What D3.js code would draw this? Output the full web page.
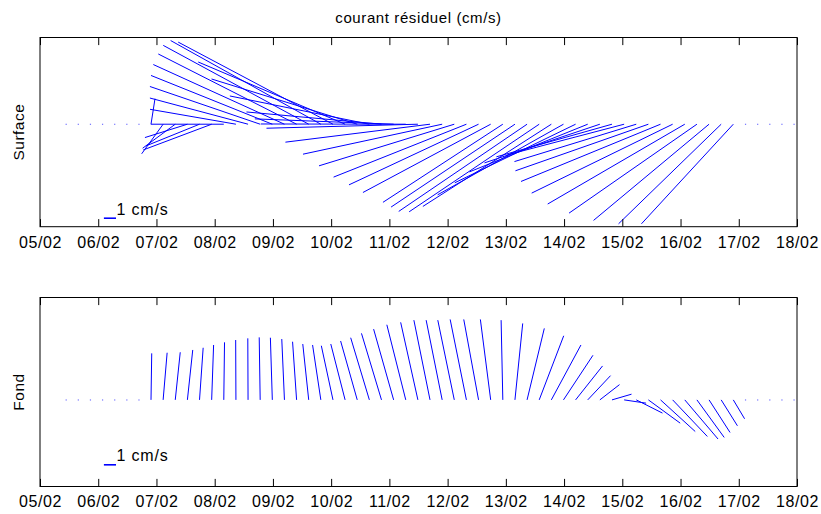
<!DOCTYPE html>
<html><head><meta charset="utf-8">
<script src="https://cdn.jsdelivr.net/npm/d3@7"></script>
<style>
body{margin:0;background:#fff}
text{font-family:"Liberation Sans",Arial,Helvetica,sans-serif;fill:#000}
</style>
</head><body>
<svg id="chart" width="821" height="514"></svg>
<script>
// ---------------- data ----------------
const chartTitle = "courant résiduel (cm/s)";
const panelLabels = ["Surface", "Fond"];
const axisStart = "2004-02-05T00:00:00Z";
const axisEnd = "2004-02-18T00:00:00Z";
const tickFormat = "%d/%m";
const sampleStart = "2004-02-05T10:45:00Z";
const sampleStepHours = 5;
const legendText = "1 cm/s";
const legendSpeed = 1;

// surface residual current (cm/s), one value per 5-hour sample (61 samples)
const surfaceU = [0,0,0,0,0,0,0,
  0.33,-1.77,-2.69,-3.50,-4.42,-5.64,-6.01,-7.08,-8.09,-9.09,-10.00,-10.81,-11.40,-11.99,
  -12.38,-12.76,-12.11,-12.01,-11.50,-11.13,-11.44,-11.95,-12.48,-11.92,-11.47,-11.15,-10.95,-10.68,
  -10.53,-9.88,-10.21,-10.58,-10.72,-10.59,-10.37,-9.96,-9.75,-9.51,-9.53,-9.63,-10.04,-10.96,
  -11.50,-11.62,-11.30,-10.54,-9.52,-8.46,-7.57,
  0,0,0,0,0];
const surfaceV = [0,0,0,0,0,0,0,
  2.11,-2.44,-1.98,-1.10,-1.79,-2.12,0.00,1.23,2.16,3.11,4.02,4.92,5.79,6.50,
  6.90,6.77,5.13,3.73,2.33,1.01,0.44,0.02,-0.33,-1.48,-2.47,-3.43,-4.36,-5.00,
  -5.63,-6.44,-6.83,-7.19,-7.22,-6.78,-5.82,-4.83,-3.93,-3.19,-2.69,-2.53,-3.08,-3.84,
  -4.72,-5.68,-6.58,-7.33,-7.93,-8.21,-8.21,
  0,0,0,0,0];

// bottom residual current (cm/s)
const fondU = [0,0,0,0,0,0,0,
  0.06,0.33,0.41,0.44,0.30,0.16,0.06,-0.02,-0.02,-0.08,-0.16,-0.22,-0.33,-0.49,
  -0.68,-0.96,-1.18,-1.37,-1.54,-1.65,-1.65,-1.56,-1.42,-1.33,-1.32,-1.36,-1.34,-1.22,
  -0.85,-0.14,0.64,1.42,2.02,2.44,2.43,2.22,1.88,1.62,1.61,1.81,2.16,2.62,
  2.86,2.86,2.74,2.25,1.73,1.34,0.93,
  0,0,0,0,0];
const fondV = [0,0,0,0,0,0,0,
  3.84,3.89,3.93,4.12,4.30,4.53,4.75,4.94,5.08,5.16,5.13,5.02,4.80,4.61,
  4.53,4.47,4.61,4.86,5.13,5.49,5.84,6.20,6.40,6.58,6.58,6.58,6.64,6.64,
  6.64,6.58,6.31,5.90,5.29,4.53,3.68,2.80,2.00,1.26,0.47,-0.27,-1.09,-1.92,
  -2.61,-3.02,-3.23,-3.10,-2.69,-2.14,-1.56,
  0,0,0,0,0];

const surfaceYDomain = [-8.45, 7.15];
const fondYDomain = [-7.15, 8.45];
const legendPosition = [["2004-02-06T02:20:00Z", -7.75], ["2004-02-06T02:20:00Z", -5.36]];

// ---------------- drawing ----------------
const svg = d3.select("#chart");
const plotLeft = 40, plotRight = 797;
const panelBoxes = [{top: 37.5, bottom: 226.7}, {top: 297.5, bottom: 486.5}];
const blue = "#0000ff";
const fontFam = '"Liberation Sans",Arial,Helvetica,sans-serif';

const x = d3.scaleUtc()
  .domain([new Date(axisStart), new Date(axisEnd)])
  .range([plotLeft, plotRight]);

const t0 = new Date(sampleStart).getTime();
const times = surfaceU.map((_, i) => new Date(t0 + i * sampleStepHours * 3600e3));
const unitPx = x(times[1]) - x(times[0]); // 1 cm/s = one sample step (feather convention)

const panels = [
  {label: panelLabels[0], u: surfaceU, v: surfaceV, yDom: surfaceYDomain, box: panelBoxes[0], legend: legendPosition[0]},
  {label: panelLabels[1], u: fondU, v: fondV, yDom: fondYDomain, box: panelBoxes[1], legend: legendPosition[1]}
];

svg.append("text")
  .attr("x", (plotLeft + plotRight) / 2)
  .attr("y", 23)
  .attr("text-anchor", "middle")
  .style("font-size", "15px")
  .style("letter-spacing", "0.6px")
  .text(chartTitle);

panels.forEach(p => {
  const y = d3.scaleLinear().domain(p.yDom).range([p.box.bottom, p.box.top]);
  const g = svg.append("g");

  const data = times.map((t, i) => ({t, u: p.u[i], v: p.v[i]}));

  g.selectAll("rect.dot")
    .data(data.filter(d => d.u === 0 && d.v === 0))
    .join("rect")
    .attr("class", "dot")
    .attr("x", d => x(d.t) - 0.5)
    .attr("y", y(0) - 0.5)
    .attr("width", 1.2)
    .attr("height", 1.2)
    .attr("fill", blue)
    .attr("opacity", 0.55);

  g.selectAll("line.vec")
    .data(data.filter(d => !(d.u === 0 && d.v === 0)))
    .join("line")
    .attr("class", "vec")
    .attr("x1", d => x(d.t))
    .attr("y1", y(0))
    .attr("x2", d => x(d.t) + d.u * unitPx)
    .attr("y2", d => y(d.v))
    .attr("stroke", blue)
    .attr("stroke-width", 1);

  const lx = x(new Date(p.legend[0])), ly = y(p.legend[1]);
  g.append("line")
    .attr("x1", lx).attr("x2", lx + legendSpeed * unitPx)
    .attr("y1", ly).attr("y2", ly)
    .attr("stroke", blue).attr("stroke-width", 1.6);
  g.append("text")
    .attr("x", lx + legendSpeed * unitPx + 0.5)
    .attr("y", ly - 3.5)
    .style("font-size", "16px")
    .style("letter-spacing", "0.8px")
    .text(legendText);

  g.append("rect")
    .attr("x", plotLeft).attr("y", p.box.top)
    .attr("width", plotRight - plotLeft).attr("height", p.box.bottom - p.box.top)
    .attr("fill", "none").attr("stroke", "#000").attr("stroke-width", 1);

  const ticks = d3.utcDay.range(new Date(axisStart), d3.utcDay.offset(new Date(axisEnd), 1));
  const bottomAxis = d3.axisBottom(x).tickValues(ticks)
    .tickFormat(d3.utcFormat(tickFormat))
    .tickSizeInner(-7.6).tickSizeOuter(0).tickPadding(9.5);
  const ga = g.append("g").attr("transform", `translate(0,${p.box.bottom})`).call(bottomAxis);
  ga.select(".domain").remove();
  ga.selectAll("line").attr("stroke", "#000");
  ga.selectAll("text").style("font-size", "16px").style("letter-spacing", "0.6px")
    .style("font-family", fontFam).attr("fill", "#000");

  const topAxis = d3.axisTop(x).tickValues(ticks).tickFormat("")
    .tickSizeInner(-7.6).tickSizeOuter(0);
  const gt = g.append("g").attr("transform", `translate(0,${p.box.top})`).call(topAxis);
  gt.select(".domain").remove();
  gt.selectAll("line").attr("stroke", "#000");

  svg.append("text")
    .attr("transform", `translate(24,${(p.box.top + p.box.bottom) / 2}) rotate(-90)`)
    .attr("text-anchor", "middle")
    .style("font-size", "15.5px")
    .style("letter-spacing", "0.5px")
    .text(p.label);
});
</script>
</body></html>
